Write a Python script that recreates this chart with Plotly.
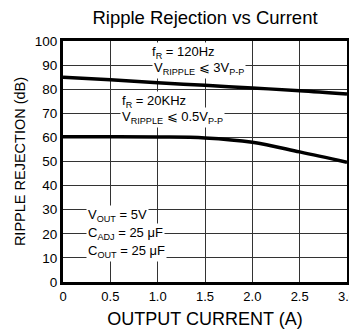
import plotly.graph_objects as go

currents = [0, 0.5, 1.0, 1.5, 2.0, 2.5, 3.0]
rr_120hz = [85.0, 83.9, 82.7, 81.6, 80.5, 79.4, 78.0]
rr_20khz = [60.3, 60.3, 60.2, 59.8, 58.0, 54.0, 49.7]
x_ticks = [0, 0.5, 1.0, 1.5, 2.0, 2.5, 3.0]
x_ticklabels = ["0", "0.5", "1.0", "1.5", "2.0", "2.5", "3.0"]
y_ticks = list(range(0, 101, 10))

label_120hz = ["f<sub>R</sub> = 120Hz", "V<sub>RIPPLE</sub> ⩽ 3V<sub>P-P</sub>"]
label_20khz = ["f<sub>R</sub> = 20KHz", "V<sub>RIPPLE</sub> ⩽ 0.5V<sub>P-P</sub>"]
label_cond = ["V<sub>OUT</sub> = 5V", "C<sub>ADJ</sub> = 25 μF", "C<sub>OUT</sub> = 25 μF"]

FONT = "Liberation Sans, Arial, sans-serif"

fig = go.Figure()
fig.add_trace(go.Scatter(x=currents, y=rr_120hz, mode="lines",
                         line=dict(color="black", width=3.5, shape="spline"),
                         showlegend=False))
fig.add_trace(go.Scatter(x=currents, y=rr_20khz, mode="lines",
                         line=dict(color="black", width=3.5, shape="spline"),
                         showlegend=False))

ann_font = dict(family=FONT, size=13, color="black")
placements = [
    (label_120hz, [(0.92, 95.2), (0.94, 88.4)]),
    (label_20khz, [(0.60, 75.0), (0.60, 68.2)]),
    (label_cond, [(0.24, 27.8), (0.24, 20.3), (0.24, 12.8)]),
]
for texts, spots in placements:
    # draw lower lines first so upper-line subscripts stay on top
    for txt, (ax, ay) in reversed(list(zip(texts, spots))):
        fig.add_annotation(x=ax, y=ay, xref="x", yref="y", text=txt,
                           showarrow=False, align="left", xanchor="left", yanchor="middle",
                           bgcolor="white", font=ann_font, borderpad=1)

fig.update_layout(
    template="none",
    width=349, height=334,
    margin=dict(l=63, r=2, t=41, b=52, pad=0),
    paper_bgcolor="white", plot_bgcolor="white",
    font=dict(family=FONT, color="black"),
    showlegend=False,
    title=dict(text="Ripple Rejection vs Current", x=0.5, xref="paper", xanchor="center",
               y=1 - 18 / 334, yref="container", yanchor="middle",
               font=dict(family=FONT, size=18.5, color="black")),
    xaxis=dict(range=[0, 3.0], tickvals=x_ticks, ticktext=x_ticklabels,
               automargin=False,
               showgrid=True, gridcolor="#333", gridwidth=1,
               showline=True, linecolor="black", linewidth=3, mirror=True,
               ticks="", zeroline=False, ticklabeloverflow="allow",
               tickfont=dict(family=FONT, size=13, color="black"),
               title=dict(text="OUTPUT CURRENT (A)", standoff=10,
                          font=dict(family=FONT, size=18, color="black"))),
    yaxis=dict(range=[0, 100], tickvals=y_ticks,
               automargin=False,
               showgrid=True, gridcolor="#333", gridwidth=1,
               showline=True, linecolor="black", linewidth=3, mirror=True,
               ticks="", zeroline=False,
               tickfont=dict(family=FONT, size=13.5, color="black"),
               title=dict(text="RIPPLE REJECTION (dB)", standoff=6,
                          font=dict(family=FONT, size=14.5, color="black"))),
)

fig.write_html("out.html")
